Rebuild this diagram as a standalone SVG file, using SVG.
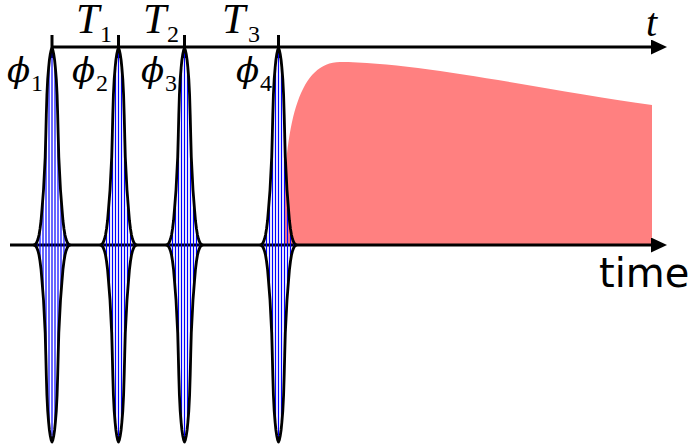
<svg xmlns="http://www.w3.org/2000/svg" xmlns:xlink="http://www.w3.org/1999/xlink" width="694" height="447" viewBox="0 0 694 447">
<style>
.ax{stroke:#000;stroke-width:3;fill:none}
.tick{stroke:#000;stroke-width:3}
.env{fill:none;stroke:#000;stroke-width:2.8;stroke-linejoin:round}
.car{stroke:#0000ff;stroke-width:1.2}
.m{font-family:"Liberation Serif","DejaVu Serif",serif;font-style:italic;fill:#000}
.p{font-family:"DejaVu Serif",serif;font-style:italic;fill:#000}
.s{font-family:"Liberation Serif","DejaVu Serif",serif;fill:#000}
.lab{font-family:"DejaVu Sans",sans-serif;fill:#000}
</style>
<defs>
<marker id="arr" viewBox="0 0 16 15" refX="0" refY="7.5" markerWidth="16" markerHeight="15" markerUnits="userSpaceOnUse" orient="auto">
<path d="M0,0 L16,7.5 L0,15 Z" fill="#000"/>
</marker>
<g id="pulse">
<g class="car">
<line x1="0" y1="-195" x2="0" y2="195"/>
<line x1="3" y1="-177" x2="3" y2="177"/>
<line x1="-3" y1="-177" x2="-3" y2="177"/>
<line x1="6" y1="-110" x2="6" y2="110"/>
<line x1="-6" y1="-110" x2="-6" y2="110"/>
<line x1="9" y1="-46" x2="9" y2="46"/>
<line x1="-9" y1="-46" x2="-9" y2="46"/>
<line x1="12" y1="-14" x2="12" y2="14"/>
<line x1="-12" y1="-14" x2="-12" y2="14"/>
<line x1="15" y1="-2" x2="15" y2="2"/>
<line x1="-15" y1="-2" x2="-15" y2="2"/>
</g>
<path class="env" d="M-18,0 L-17,-0.5 L-16,-1.4 L-15,-3.2 L-14,-6 L-13,-10 L-12,-16 L-11,-24 L-10,-36 L-8.5,-55 L-6.8,-88 L-6.2,-110 L-5.7,-130 L-5.1,-150 L-4.3,-166 L-3.4,-177 L-2.6,-185 L-1.7,-191 L-0.85,-195 L0,-197 L0.85,-195 L1.7,-191 L2.6,-185 L3.4,-177 L4.3,-166 L5.1,-150 L5.7,-130 L6.2,-110 L6.8,-88 L8.5,-55 L10,-36 L11,-24 L12,-16 L13,-10 L14,-6 L15,-3.2 L16,-1.4 L17,-0.5 L18,0 L17,0.5 L16,1.4 L15,3.2 L14,6 L13,10 L12,16 L11,24 L10,36 L8.5,55 L6.8,88 L6.2,110 L5.7,130 L5.1,150 L4.3,166 L3.4,177 L2.6,185 L1.7,191 L0.85,195 L0,197 L-0.85,195 L-1.7,191 L-2.6,185 L-3.4,177 L-4.3,166 L-5.1,150 L-5.7,130 L-6.2,110 L-6.8,88 L-8.5,55 L-10,36 L-11,24 L-12,16 L-13,10 L-14,6 L-15,3.2 L-16,1.4 L-17,0.5 Z"/>
</g>
</defs>
<rect width="694" height="447" fill="#fff"/>
<g id="signal">
<path d="M284,245 L284,205 C286,120 300,62 340,62 C420,62 560,93 652,105 L652,245 Z" fill="#ff8080"/>
</g>
<g id="connectors">
<line class="ax" x1="10" y1="245" x2="651" y2="245" marker-end="url(#arr)"/>
<line class="ax" x1="52" y1="47" x2="651" y2="47" marker-end="url(#arr)"/>
<line class="tick" x1="52" y1="35" x2="52" y2="58"/>
<line class="tick" x1="118.5" y1="35" x2="118.5" y2="58"/>
<line class="tick" x1="184.5" y1="35" x2="184.5" y2="58"/>
<line class="tick" x1="278.5" y1="35" x2="278.5" y2="58"/>
</g>
<g id="pulse1"><use xlink:href="#pulse" transform="translate(52,245)"/><text class="p" x="7" y="82" font-size="34">ϕ</text><text class="s" x="31" y="91" font-size="24">1</text></g>
<g id="pulse2"><use xlink:href="#pulse" transform="translate(118.5,245)"/><text class="p" x="72" y="82" font-size="34">ϕ</text><text class="s" x="96" y="91" font-size="24">2</text></g>
<g id="pulse3"><use xlink:href="#pulse" transform="translate(184.5,245)"/><text class="p" x="141" y="82" font-size="34">ϕ</text><text class="s" x="165" y="91" font-size="24">3</text></g>
<g id="pulse4"><use xlink:href="#pulse" transform="translate(278.5,245)"/><text class="p" x="236" y="82" font-size="34">ϕ</text><text class="s" x="260" y="91" font-size="24">4</text></g>
<g id="delays">
<text class="m" x="76" y="33" font-size="42">T</text><text class="s" x="100" y="42" font-size="24">1</text>
<text class="m" x="143" y="33" font-size="42">T</text><text class="s" x="167" y="42" font-size="24">2</text>
<text class="m" x="222" y="33" font-size="42">T</text><text class="s" x="248" y="42" font-size="24">3</text>
</g>
<g id="axis-labels">
<text class="m" x="646" y="36" font-size="40">t</text>
<text class="lab" x="599" y="287" font-size="40">time</text>
</g>
</svg>
